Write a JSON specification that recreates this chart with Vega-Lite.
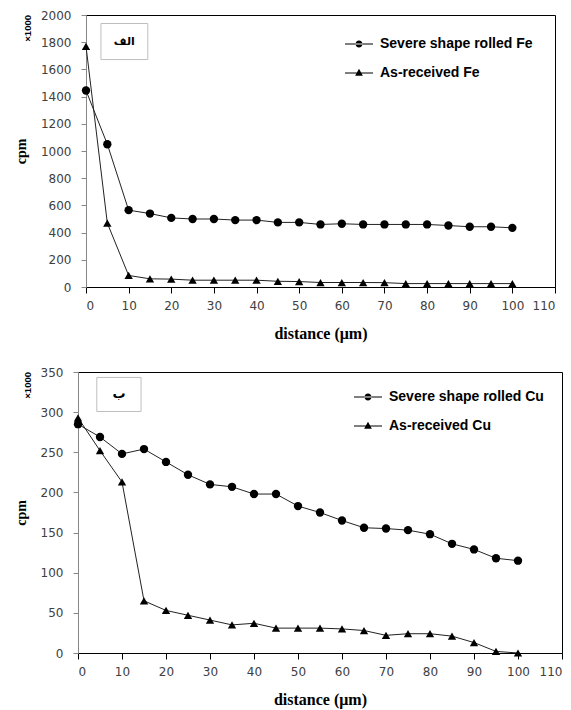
{
  "$schema": "https://vega.github.io/schema/vega-lite/v6.json",
  "padding": {"left": 6, "top": 8, "right": 0, "bottom": 3},
  "background": "white",
  "spacing": 23,
  "config": {
    "view": {"stroke": "black", "strokeWidth": 1},
    "axis": {"grid": false, "labelFont": "DejaVu Sans", "labelFontSize": 12, "labelColor": "#404040", "titleFont": "Liberation Serif", "titleFontWeight": "bold", "titleColor": "black", "labelOverlap": false},
    "axisX": {"domainColor": "black", "tickColor": "black", "tickSize": 6, "labelPadding": 7, "titleFontSize": 16, "titlePadding": 14, "labelAngle": 0},
    "axisY": {"domainColor": "#888888", "tickColor": "#888888", "tickSize": 5, "labelPadding": 10, "titleFontSize": 14, "titlePadding": 12, "format": "d"},
    "legend": {"labelFont": "Liberation Sans", "labelFontSize": 14, "labelFontWeight": "bold", "labelColor": "black", "symbolSize": 49, "rowPadding": 14, "labelOffset": 14, "padding": 0}
  },
  "vconcat": [
    {"spacing": 0, "hconcat": [
    {"width": 1, "height": 1, "view": {"stroke": null}, "data": {"values": [{"k": 1}]}, "mark": {"type": "point", "opacity": 0}},
    {
      "width": 469,
      "height": 272,
      "view": {"stroke": "black", "strokeWidth": 1},
      "title": {"text": "×1000", "orient": "left", "anchor": "end", "frame": "group", "fontSize": 9.5, "font": "Liberation Sans", "fontWeight": "bold", "color": "black", "offset": -18},
      "layer": [
        {
          "data": {"name": "fe", "values": [
            {"distance": 0, "cpm": 1445, "series": "Severe shape rolled Fe"},
            {"distance": 5, "cpm": 1050, "series": "Severe shape rolled Fe"},
            {"distance": 10, "cpm": 565, "series": "Severe shape rolled Fe"},
            {"distance": 15, "cpm": 540, "series": "Severe shape rolled Fe"},
            {"distance": 20, "cpm": 508, "series": "Severe shape rolled Fe"},
            {"distance": 25, "cpm": 500, "series": "Severe shape rolled Fe"},
            {"distance": 30, "cpm": 500, "series": "Severe shape rolled Fe"},
            {"distance": 35, "cpm": 492, "series": "Severe shape rolled Fe"},
            {"distance": 40, "cpm": 492, "series": "Severe shape rolled Fe"},
            {"distance": 45, "cpm": 475, "series": "Severe shape rolled Fe"},
            {"distance": 50, "cpm": 475, "series": "Severe shape rolled Fe"},
            {"distance": 55, "cpm": 460, "series": "Severe shape rolled Fe"},
            {"distance": 60, "cpm": 465, "series": "Severe shape rolled Fe"},
            {"distance": 65, "cpm": 460, "series": "Severe shape rolled Fe"},
            {"distance": 70, "cpm": 460, "series": "Severe shape rolled Fe"},
            {"distance": 75, "cpm": 460, "series": "Severe shape rolled Fe"},
            {"distance": 80, "cpm": 460, "series": "Severe shape rolled Fe"},
            {"distance": 85, "cpm": 452, "series": "Severe shape rolled Fe"},
            {"distance": 90, "cpm": 443, "series": "Severe shape rolled Fe"},
            {"distance": 95, "cpm": 443, "series": "Severe shape rolled Fe"},
            {"distance": 100, "cpm": 435, "series": "Severe shape rolled Fe"},
            {"distance": 0, "cpm": 1770, "series": "As-received Fe"},
            {"distance": 5, "cpm": 470, "series": "As-received Fe"},
            {"distance": 10, "cpm": 85, "series": "As-received Fe"},
            {"distance": 15, "cpm": 60, "series": "As-received Fe"},
            {"distance": 20, "cpm": 58, "series": "As-received Fe"},
            {"distance": 25, "cpm": 50, "series": "As-received Fe"},
            {"distance": 30, "cpm": 50, "series": "As-received Fe"},
            {"distance": 35, "cpm": 50, "series": "As-received Fe"},
            {"distance": 40, "cpm": 50, "series": "As-received Fe"},
            {"distance": 45, "cpm": 42, "series": "As-received Fe"},
            {"distance": 50, "cpm": 40, "series": "As-received Fe"},
            {"distance": 55, "cpm": 33, "series": "As-received Fe"},
            {"distance": 60, "cpm": 33, "series": "As-received Fe"},
            {"distance": 65, "cpm": 33, "series": "As-received Fe"},
            {"distance": 70, "cpm": 32, "series": "As-received Fe"},
            {"distance": 75, "cpm": 25, "series": "As-received Fe"},
            {"distance": 80, "cpm": 25, "series": "As-received Fe"},
            {"distance": 85, "cpm": 25, "series": "As-received Fe"},
            {"distance": 90, "cpm": 25, "series": "As-received Fe"},
            {"distance": 95, "cpm": 25, "series": "As-received Fe"},
            {"distance": 100, "cpm": 25, "series": "As-received Fe"}
          ]},
          "mark": {"type": "line", "color": "#222222", "strokeWidth": 1},
          "encoding": {
            "x": {"field": "distance", "type": "quantitative", "title": "distance (μm)", "scale": {"domain": [0, 110], "nice": false}, "axis": {"values": [0, 10, 20, 30, 40, 50, 60, 70, 80, 90, 100, 110]}},
            "y": {"field": "cpm", "type": "quantitative", "title": "cpm", "scale": {"domain": [0, 2000], "nice": false}, "axis": {"values": [0, 200, 400, 600, 800, 1000, 1200, 1400, 1600, 1800, 2000]}},
            "detail": {"field": "series"}
          }
        },
        {
          "data": {"name": "fe"},
          "mark": {"type": "point", "filled": true, "color": "black", "opacity": 1, "size": 70},
          "encoding": {
            "x": {"field": "distance", "type": "quantitative", "title": "distance (μm)", "axis": {"values": [0, 10, 20, 30, 40, 50, 60, 70, 80, 90, 100, 110]}},
            "y": {"field": "cpm", "type": "quantitative", "title": "cpm", "axis": {"values": [0, 200, 400, 600, 800, 1000, 1200, 1400, 1600, 1800, 2000]}},
            "shape": {"field": "series", "type": "nominal", "scale": {"domain": ["Severe shape rolled Fe", "As-received Fe"], "range": ["circle", "triangle-up"]}, "legend": null}
          }
        },
        {
          "data": {"name": "fe"},
          "mark": {"type": "point", "filled": true, "color": "black", "opacity": 0, "size": 49},
          "encoding": {
            "x": {"field": "distance", "type": "quantitative", "title": "distance (μm)", "axis": {"values": [0, 10, 20, 30, 40, 50, 60, 70, 80, 90, 100, 110]}},
            "y": {"field": "cpm", "type": "quantitative", "title": "cpm", "axis": {"values": [0, 200, 400, 600, 800, 1000, 1200, 1400, 1600, 1800, 2000]}},
            "shape": {"field": "series", "type": "nominal", "scale": {"domain": ["Severe shape rolled Fe", "As-received Fe"], "range": ["M-1,0A1,1,0,1,0,1,0A1,1,0,1,0,-1,0ZM-4,-0.15L4,-0.15L4,0.15L-4,0.15Z", "M0,-1.2L1.1,0.8L-1.1,0.8ZM-4,-0.15L4,-0.15L4,0.15L-4,0.15Z"]},
              "legend": {"title": null, "orient": "top-right", "offset": 22, "symbolOpacity": 1,
                "encode": {"symbols": {"update": {"fill": {"value": "black"}, "stroke": {"value": "black"}, "strokeWidth": {"value": 0.5}, "opacity": {"value": 1}}}}}}
          }
        },
        {
          "data": {"values": [{"tag": "الف"}]},
          "mark": {"type": "point", "shape": "M-1.3,-1H1.3V1H-1.3Z", "size": 1300, "filled": true, "fill": "white", "stroke": "#bfbfbf", "strokeWidth": 1, "opacity": 1},
          "encoding": {"x": {"datum": 9, "axis": {"values": [0, 10, 20, 30, 40, 50, 60, 70, 80, 90, 100, 110]}}, "y": {"datum": 1805, "axis": {"values": [0, 200, 400, 600, 800, 1000, 1200, 1400, 1600, 1800, 2000]}}}
        },
        {
          "data": {"values": [{"tag": "الف"}]},
          "mark": {"type": "text", "font": "DejaVu Sans", "fontWeight": "bold", "fontSize": 11, "color": "black"},
          "encoding": {"x": {"datum": 9, "axis": {"values": [0, 10, 20, 30, 40, 50, 60, 70, 80, 90, 100, 110]}}, "y": {"datum": 1805, "axis": {"values": [0, 200, 400, 600, 800, 1000, 1200, 1400, 1600, 1800, 2000]}}, "text": {"field": "tag"}}
        }
      ],
      "resolve": {"scale": {"shape": "independent"}}
    }]},
    {"spacing": 0, "hconcat": [
    {"width": 1, "height": 1, "view": {"stroke": null}, "data": {"values": [{"k": 1}]}, "mark": {"type": "point", "opacity": 0}},
    {
      "width": 484,
      "height": 281,
      "view": {"stroke": "black", "strokeWidth": 1},
      "title": {"text": "×1000", "orient": "left", "anchor": "end", "frame": "group", "fontSize": 9.5, "font": "Liberation Sans", "fontWeight": "bold", "color": "black", "offset": -18},
      "layer": [
        {
          "data": {"name": "cu", "values": [
            {"distance": 0, "cpm": 285, "series": "Severe shape rolled Cu"},
            {"distance": 5, "cpm": 269, "series": "Severe shape rolled Cu"},
            {"distance": 10, "cpm": 248, "series": "Severe shape rolled Cu"},
            {"distance": 15, "cpm": 254, "series": "Severe shape rolled Cu"},
            {"distance": 20, "cpm": 238, "series": "Severe shape rolled Cu"},
            {"distance": 25, "cpm": 222, "series": "Severe shape rolled Cu"},
            {"distance": 30, "cpm": 210, "series": "Severe shape rolled Cu"},
            {"distance": 35, "cpm": 207, "series": "Severe shape rolled Cu"},
            {"distance": 40, "cpm": 198, "series": "Severe shape rolled Cu"},
            {"distance": 45, "cpm": 198, "series": "Severe shape rolled Cu"},
            {"distance": 50, "cpm": 183, "series": "Severe shape rolled Cu"},
            {"distance": 55, "cpm": 175, "series": "Severe shape rolled Cu"},
            {"distance": 60, "cpm": 165, "series": "Severe shape rolled Cu"},
            {"distance": 65, "cpm": 156, "series": "Severe shape rolled Cu"},
            {"distance": 70, "cpm": 155, "series": "Severe shape rolled Cu"},
            {"distance": 75, "cpm": 153, "series": "Severe shape rolled Cu"},
            {"distance": 80, "cpm": 148, "series": "Severe shape rolled Cu"},
            {"distance": 85, "cpm": 136, "series": "Severe shape rolled Cu"},
            {"distance": 90, "cpm": 129, "series": "Severe shape rolled Cu"},
            {"distance": 95, "cpm": 118, "series": "Severe shape rolled Cu"},
            {"distance": 100, "cpm": 115, "series": "Severe shape rolled Cu"},
            {"distance": 0, "cpm": 293, "series": "As-received Cu"},
            {"distance": 5, "cpm": 252, "series": "As-received Cu"},
            {"distance": 10, "cpm": 213, "series": "As-received Cu"},
            {"distance": 15, "cpm": 65, "series": "As-received Cu"},
            {"distance": 20, "cpm": 53, "series": "As-received Cu"},
            {"distance": 25, "cpm": 47, "series": "As-received Cu"},
            {"distance": 30, "cpm": 41, "series": "As-received Cu"},
            {"distance": 35, "cpm": 35, "series": "As-received Cu"},
            {"distance": 40, "cpm": 37, "series": "As-received Cu"},
            {"distance": 45, "cpm": 31, "series": "As-received Cu"},
            {"distance": 50, "cpm": 31, "series": "As-received Cu"},
            {"distance": 55, "cpm": 31, "series": "As-received Cu"},
            {"distance": 60, "cpm": 30, "series": "As-received Cu"},
            {"distance": 65, "cpm": 28, "series": "As-received Cu"},
            {"distance": 70, "cpm": 22, "series": "As-received Cu"},
            {"distance": 75, "cpm": 24, "series": "As-received Cu"},
            {"distance": 80, "cpm": 24, "series": "As-received Cu"},
            {"distance": 85, "cpm": 21, "series": "As-received Cu"},
            {"distance": 90, "cpm": 13, "series": "As-received Cu"},
            {"distance": 95, "cpm": 2, "series": "As-received Cu"},
            {"distance": 100, "cpm": 0, "series": "As-received Cu"}
          ]},
          "mark": {"type": "line", "color": "#222222", "strokeWidth": 1},
          "encoding": {
            "x": {"field": "distance", "type": "quantitative", "title": "distance (μm)", "scale": {"domain": [0, 110], "nice": false}, "axis": {"values": [0, 10, 20, 30, 40, 50, 60, 70, 80, 90, 100, 110]}},
            "y": {"field": "cpm", "type": "quantitative", "title": "cpm", "scale": {"domain": [0, 350], "nice": false}, "axis": {"values": [0, 50, 100, 150, 200, 250, 300, 350]}},
            "detail": {"field": "series"}
          }
        },
        {
          "data": {"name": "cu"},
          "mark": {"type": "point", "filled": true, "color": "black", "opacity": 1, "size": 70},
          "encoding": {
            "x": {"field": "distance", "type": "quantitative", "title": "distance (μm)", "axis": {"values": [0, 10, 20, 30, 40, 50, 60, 70, 80, 90, 100, 110]}},
            "y": {"field": "cpm", "type": "quantitative", "title": "cpm", "axis": {"values": [0, 50, 100, 150, 200, 250, 300, 350]}},
            "shape": {"field": "series", "type": "nominal", "scale": {"domain": ["Severe shape rolled Cu", "As-received Cu"], "range": ["circle", "triangle-up"]}, "legend": null}
          }
        },
        {
          "data": {"name": "cu"},
          "mark": {"type": "point", "filled": true, "color": "black", "opacity": 0, "size": 49},
          "encoding": {
            "x": {"field": "distance", "type": "quantitative", "title": "distance (μm)", "axis": {"values": [0, 10, 20, 30, 40, 50, 60, 70, 80, 90, 100, 110]}},
            "y": {"field": "cpm", "type": "quantitative", "title": "cpm", "axis": {"values": [0, 50, 100, 150, 200, 250, 300, 350]}},
            "shape": {"field": "series", "type": "nominal", "scale": {"domain": ["Severe shape rolled Cu", "As-received Cu"], "range": ["M-1,0A1,1,0,1,0,1,0A1,1,0,1,0,-1,0ZM-4,-0.15L4,-0.15L4,0.15L-4,0.15Z", "M0,-1.2L1.1,0.8L-1.1,0.8ZM-4,-0.15L4,-0.15L4,0.15L-4,0.15Z"]},
              "legend": {"title": null, "orient": "top-right", "offset": 18, "symbolOpacity": 1,
                "encode": {"symbols": {"update": {"fill": {"value": "black"}, "stroke": {"value": "black"}, "strokeWidth": {"value": 0.5}, "opacity": {"value": 1}}}}}}
          }
        },
        {
          "data": {"values": [{"tag": "ب"}]},
          "mark": {"type": "point", "shape": "M-1.3,-1H1.3V1H-1.3Z", "size": 1160, "filled": true, "fill": "white", "stroke": "#bfbfbf", "strokeWidth": 1, "opacity": 1},
          "encoding": {"x": {"datum": 9.3, "axis": {"values": [0, 10, 20, 30, 40, 50, 60, 70, 80, 90, 100, 110]}}, "y": {"datum": 322, "axis": {"values": [0, 50, 100, 150, 200, 250, 300, 350]}}}
        },
        {
          "data": {"values": [{"tag": "ب"}]},
          "mark": {"type": "text", "font": "DejaVu Sans", "fontWeight": "bold", "fontSize": 13, "color": "black"},
          "encoding": {"x": {"datum": 9.3, "axis": {"values": [0, 10, 20, 30, 40, 50, 60, 70, 80, 90, 100, 110]}}, "y": {"datum": 322, "axis": {"values": [0, 50, 100, 150, 200, 250, 300, 350]}}, "text": {"field": "tag"}}
        }
      ],
      "resolve": {"scale": {"shape": "independent"}}
    }]}
  ]
}
